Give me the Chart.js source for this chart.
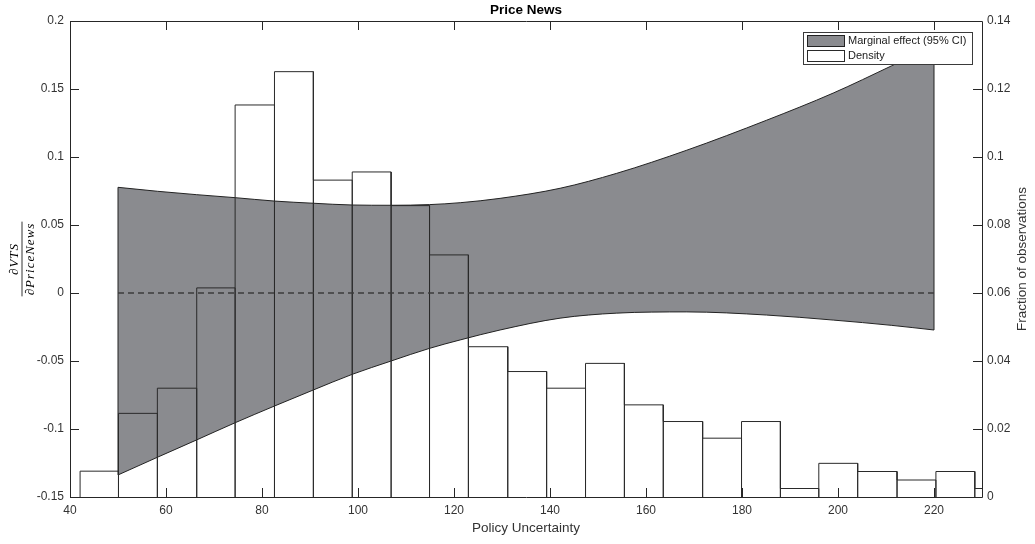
<!DOCTYPE html>
<html>
<head>
<meta charset="utf-8">
<script src="https://cdn.jsdelivr.net/npm/chart.js@4.4.1/dist/chart.umd.min.js"></script>
<style>
html,body{margin:0;padding:0;background:#ffffff;}
#wrap{width:1035px;height:544px;position:relative;}
canvas{display:block;}
</style>
</head>
<body>
<div id="wrap"><canvas id="c" width="1035" height="544"></canvas></div>
<script>
// ---------- data ----------
const chartTitle = 'Price News';
const xAxisLabel = 'Policy Uncertainty';
const yLeftLabelNum = '\u2202VTS';
const yLeftLabelDen = '\u2202PriceNews';
const yRightLabel = 'Fraction of observations';
const legendLabels = ['Marginal effect (95% CI)', 'Density'];

const xTicks = [40, 60, 80, 100, 120, 140, 160, 180, 200, 220];
const yLeftTicks = [-0.15, -0.1, -0.05, 0, 0.05, 0.1, 0.15, 0.2];
const yRightTicks = [0, 0.02, 0.04, 0.06, 0.08, 0.1, 0.12, 0.14];

// histogram (right axis)
const densityBinEdges = [42.1, 50.1, 58.2, 66.4, 74.4, 82.6, 90.7, 98.8, 106.9, 114.9, 123.0, 131.2,
                         139.3, 147.4, 155.5, 163.6, 171.8, 179.9, 188.0, 196.0, 204.1, 212.3, 220.4, 228.5, 236.6];
const densityValues = [0.0076, 0.0246, 0.0320, 0.0615, 0.1153, 0.1251, 0.0932, 0.0956, 0.0857, 0.0712, 0.0442, 0.0369,
                       0.0320, 0.0393, 0.0271, 0.0222, 0.0173, 0.0222, 0.0025, 0.0099, 0.0075, 0.0050, 0.0075, 0.0025];

// marginal effect 95% CI (left axis)
const ciX     = [50, 58.2, 66.4, 74.4, 82.6, 90.7, 98.8, 106.9, 114.9, 121.3, 129.6, 142.1, 153.9, 168.5, 185.1, 199.0, 211.2, 220];
const ciUpper = [0.0777, 0.0748, 0.0723, 0.0701, 0.0676, 0.0660, 0.0647, 0.0645, 0.0650, 0.0664, 0.0696, 0.0770, 0.0880, 0.1050, 0.1270, 0.1470, 0.1671, 0.1820];
const ciLower = [-0.1338, -0.1208, -0.1080, -0.0954, -0.0831, -0.0713, -0.0598, -0.0500, -0.0407, -0.0345, -0.0272, -0.0185, -0.0148, -0.0139, -0.0162, -0.0199, -0.0238, -0.0272];
const zeroLineValue = 0;

// ---------- styles ----------
const FONT = '"Liberation Sans", Arial, Helvetica, sans-serif';
const AXIS_COLOR = '#262626';
const TICK_TEXT = '#333333';
const BAND_COLOR = '#8a8b8f';
const EDGE_COLOR = '#222222';

// ---------- derived datasets ----------
const barPoints = densityValues.map((v, i) => ({ x: (densityBinEdges[i] + densityBinEdges[i + 1]) / 2, y: v }));
const outlinePoints = [];
densityValues.forEach((v, i) => {
  outlinePoints.push({ x: densityBinEdges[i], y: 0 });
  outlinePoints.push({ x: densityBinEdges[i], y: v });
  outlinePoints.push({ x: densityBinEdges[i + 1], y: v });
  outlinePoints.push({ x: densityBinEdges[i + 1], y: 0 });
});
const upperPoints = ciX.map((x, i) => ({ x, y: ciUpper[i] }));
const lowerPoints = ciX.map((x, i) => ({ x, y: ciLower[i] }));
const nCI = ciX.length - 1;
const edgeLeft = [{ x: ciX[0], y: ciLower[0] }, { x: ciX[0], y: ciUpper[0] }];
const edgeRight = [{ x: ciX[nCI], y: ciLower[nCI] }, { x: ciX[nCI], y: ciUpper[nCI] }];
const zeroPoints = [{ x: ciX[0], y: zeroLineValue }, { x: ciX[nCI], y: zeroLineValue }];

const fmt = v => String(+(+v).toFixed(2));

// ---------- plugin: frame, inward ticks, legend, titles ----------
const decorations = {
  id: 'decorations',
  afterDatasetsDraw(chart) {
    const { ctx, chartArea: a, scales } = chart;
    const L = a.left, R = a.right, T = a.top, B = a.bottom;
    const tl = 9;
    ctx.save();
    ctx.strokeStyle = AXIS_COLOR;
    ctx.lineWidth = 1;
    ctx.beginPath();
    ctx.rect(Math.round(L) + 0.5, Math.round(T) + 0.5, Math.round(R - L), Math.round(B - T));
    ctx.stroke();
    ctx.beginPath();
    xTicks.forEach(v => {
      const px = Math.round(scales.x.getPixelForValue(v)) + 0.5;
      ctx.moveTo(px, B); ctx.lineTo(px, B - tl);
      ctx.moveTo(px, T); ctx.lineTo(px, T + tl);
    });
    yLeftTicks.forEach(v => {
      const py = Math.round(scales.y.getPixelForValue(v)) + 0.5;
      ctx.moveTo(L, py); ctx.lineTo(L + tl, py);
    });
    yRightTicks.forEach(v => {
      const py = Math.round(scales.y2.getPixelForValue(v)) + 0.5;
      ctx.moveTo(R, py); ctx.lineTo(R - tl, py);
    });
    ctx.stroke();
    ctx.restore();
  },
  afterDraw(chart) {
    const { ctx, chartArea: a } = chart;
    const ds = chart.data.datasets;
    ctx.save();
    // legend
    const lw = 169, lh = 32;
    const lx = Math.round(a.right - 10 - lw), ly = Math.round(a.top + 11);
    ctx.fillStyle = '#ffffff';
    ctx.fillRect(lx, ly, lw, lh);
    ctx.strokeStyle = '#3a3a3a';
    ctx.lineWidth = 1;
    ctx.strokeRect(lx + 0.5, ly + 0.5, lw, lh);
    const sw = 37, sh = 11;
    ctx.fillStyle = ds[1].backgroundColor;
    ctx.fillRect(lx + 4, ly + 3, sw, sh);
    ctx.strokeStyle = ds[1].borderColor;
    ctx.strokeRect(lx + 4.5, ly + 3.5, sw, sh);
    ctx.fillStyle = ds[0].backgroundColor;
    ctx.fillRect(lx + 4, ly + 18, sw, sh);
    ctx.strokeStyle = ds[5].borderColor;
    ctx.strokeRect(lx + 4.5, ly + 18.5, sw, sh);
    ctx.fillStyle = '#1a1a1a';
    ctx.font = '11px ' + FONT;
    ctx.textAlign = 'left';
    ctx.textBaseline = 'middle';
    ctx.fillText(legendLabels[0], lx + 45, ly + 9);
    ctx.fillText(legendLabels[1], lx + 45, ly + 24);

    // title
    const cx = (a.left + a.right) / 2;
    ctx.fillStyle = '#000000';
    ctx.font = 'bold 13.5px ' + FONT;
    ctx.textAlign = 'center';
    ctx.fillText(chartTitle, cx, 10.5);

    // x label
    ctx.fillStyle = TICK_TEXT;
    ctx.font = '13.5px ' + FONT;
    ctx.fillText(xAxisLabel, cx, a.bottom + 31);

    // right label (reads bottom to top)
    const cy = (a.top + a.bottom) / 2;
    ctx.save();
    ctx.translate(a.right + 40, cy);
    ctx.rotate(-Math.PI / 2);
    ctx.textAlign = 'center';
    ctx.textBaseline = 'middle';
    ctx.fillText(yRightLabel, 0, 0);
    ctx.restore();

    // left label: fraction
    ctx.save();
    ctx.translate(21.5, cy);
    ctx.rotate(-Math.PI / 2);
    ctx.fillStyle = '#000000';
    ctx.font = 'italic 13px "Liberation Serif", "Times New Roman", serif';
    try { ctx.letterSpacing = '1px'; } catch (e) {}
    ctx.textAlign = 'center';
    ctx.textBaseline = 'alphabetic';
    const denW = ctx.measureText(yLeftLabelDen).width;
    ctx.fillText(yLeftLabelNum, 0, -3.5);
    ctx.fillText(yLeftLabelDen, 0, 12.5);
    ctx.strokeStyle = '#000000';
    ctx.lineWidth = 0.8;
    ctx.beginPath();
    ctx.moveTo(-denW / 2 - 1, 0.5);
    ctx.lineTo(denW / 2 + 1, 0.5);
    ctx.stroke();
    ctx.restore();

    ctx.restore();
  }
};

const tickFont = { family: FONT, size: 12 };

new Chart(document.getElementById('c'), {
  type: 'line',
  data: {
    datasets: [
      { // 0: white histogram bars (behind)
        type: 'bar', label: legendLabels[1], data: barPoints, yAxisID: 'y2',
        backgroundColor: '#ffffff', borderWidth: 0, barPercentage: 1, categoryPercentage: 1, order: 10
      },
      { // 1: CI upper bound, filled to lower
        label: legendLabels[0], data: upperPoints, yAxisID: 'y',
        borderColor: EDGE_COLOR, borderWidth: 1, backgroundColor: BAND_COLOR,
        fill: '+1', pointRadius: 0, cubicInterpolationMode: 'monotone', order: 8
      },
      { // 2: CI lower bound
        label: 'lower', data: lowerPoints, yAxisID: 'y',
        borderColor: EDGE_COLOR, borderWidth: 1, fill: false, pointRadius: 0,
        cubicInterpolationMode: 'monotone', order: 7
      },
      { // 3: left edge of band
        label: 'edgeL', data: edgeLeft, yAxisID: 'y',
        borderColor: EDGE_COLOR, borderWidth: 1, fill: false, pointRadius: 0, order: 6
      },
      { // 4: right edge of band
        label: 'edgeR', data: edgeRight, yAxisID: 'y',
        borderColor: EDGE_COLOR, borderWidth: 1, fill: false, pointRadius: 0, order: 6
      },
      { // 5: histogram bar outlines
        label: 'outline', data: outlinePoints, yAxisID: 'y2',
        borderColor: '#2a2a2a', borderWidth: 1, fill: false, pointRadius: 0, tension: 0, order: 5
      },
      { // 6: zero reference line
        label: 'zero', data: zeroPoints, yAxisID: 'y',
        borderColor: '#3c3c3c', borderWidth: 1.3, borderDash: [6, 4], fill: false, pointRadius: 0, order: 1
      }
    ]
  },
  options: {
    responsive: false,
    animation: false,
    devicePixelRatio: 1,
    layout: { padding: { top: 21, left: 0, right: 0, bottom: 0 } },
    plugins: { legend: { display: false }, tooltip: { enabled: false }, title: { display: false } },
    scales: {
      x: {
        type: 'linear', min: 40, max: 230, offset: false,
        grid: { display: false, drawTicks: false }, border: { display: false },
        afterBuildTicks: s => { s.ticks = xTicks.map(v => ({ value: v })); },
        afterFit: s => { s.height = 47; },
        ticks: { font: tickFont, color: TICK_TEXT, padding: 6, maxRotation: 0, autoSkip: false, callback: v => String(v) }
      },
      y: {
        type: 'linear', position: 'left', min: -0.15, max: 0.2,
        grid: { display: false, drawTicks: false }, border: { display: false },
        afterBuildTicks: s => { s.ticks = yLeftTicks.map(v => ({ value: v })); },
        afterFit: s => { s.width = 70; },
        ticks: { font: tickFont, color: TICK_TEXT, padding: 6, autoSkip: false, callback: fmt }
      },
      y2: {
        type: 'linear', position: 'right', min: 0, max: 0.14,
        grid: { display: false, drawTicks: false }, border: { display: false },
        afterBuildTicks: s => { s.ticks = yRightTicks.map(v => ({ value: v })); },
        afterFit: s => { s.width = 53; },
        ticks: { font: tickFont, color: TICK_TEXT, padding: 5, autoSkip: false, callback: fmt }
      }
    }
  },
  plugins: [decorations]
});
</script>
</body>
</html>
